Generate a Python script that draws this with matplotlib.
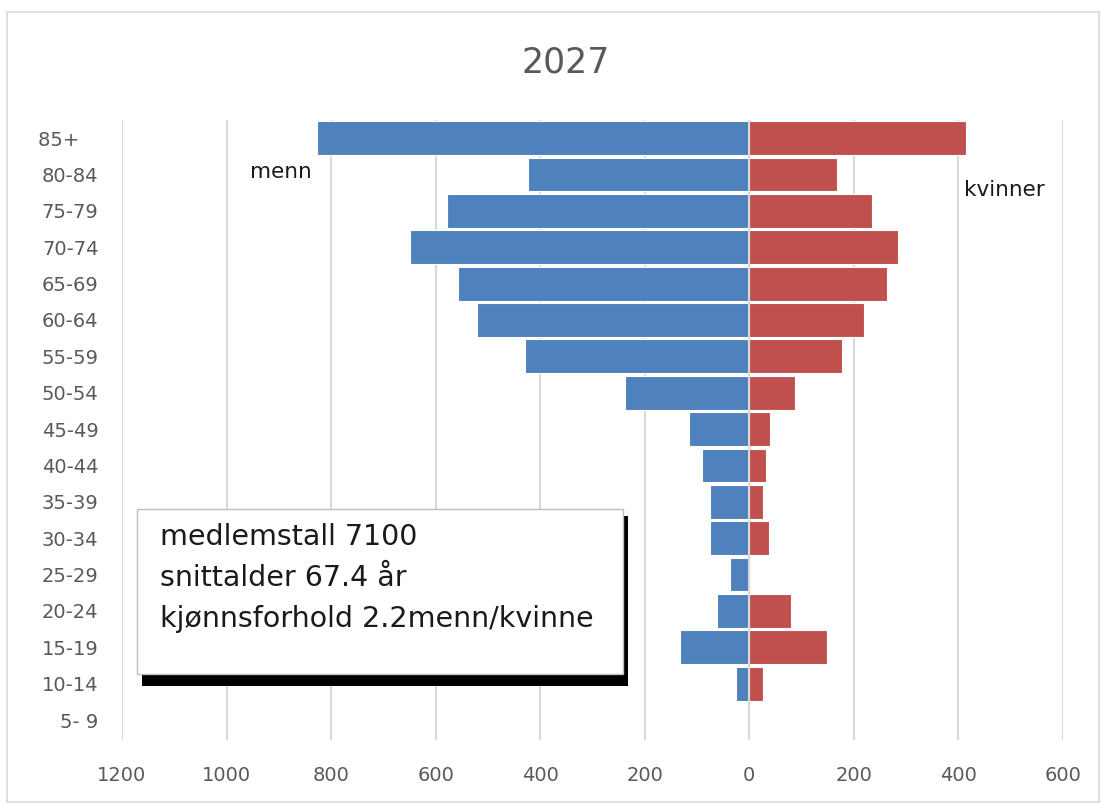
import matplotlib.pyplot as plt
import numpy as np
from matplotlib.patches import Rectangle
from matplotlib.ticker import FuncFormatter

# age groups from bottom to top
ages = ['5- 9', '10-14', '15-19', '20-24', '25-29', '30-34', '35-39', '40-44',
        '45-49', '50-54', '55-59', '60-64', '65-69', '70-74', '75-79', '80-84', '85+   ']
menn = [5, 26, 132, 62, 37, 75, 75, 90, 115, 237, 429, 521, 557, 650, 579, 423, 827]
kvinner = [0, 27, 149, 79, 0, 38, 27, 31, 39, 87, 177, 220, 264, 284, 234, 167, 414]
xticks = [-1200, -1000, -800, -600, -400, -200, 0, 200, 400, 600]

blue = '#4F81BD'
red = '#C0504D'
grey = '#595959'

fig = plt.figure(figsize=(11.02, 8.05), dpi=100)
ax = fig.add_axes([0.1107, 0.0807, 0.8539, 0.7703])

y = np.arange(len(ages))
ax.barh(y, -np.array(menn), height=0.93, color=blue, edgecolor='white', linewidth=0.8, zorder=3)
ax.barh(y, kvinner, height=0.93, color=red, edgecolor='white', linewidth=0.8, zorder=3)

ax.set_xlim(-1200, 600)
ax.set_ylim(-0.55, 16.5)
ax.set_xticks(xticks)
ax.xaxis.set_major_formatter(FuncFormatter(lambda v, p: '%d' % abs(v)))
ax.set_yticks(y)
ax.set_yticklabels(ages)
ax.tick_params(axis='both', length=0, labelsize=14, labelcolor=grey)
ax.tick_params(axis='y', pad=17)
ax.tick_params(axis='x', pad=19)
ax.grid(axis='x', color='#d9d9d9', linewidth=1.5, zorder=0)
ax.axvline(0, color='#d9d9d9', linewidth=1.5, zorder=4)
for s in ax.spines.values():
    s.set_visible(False)

fig.text(0.513, 0.922, '2027', ha='center', va='center', fontsize=25, color=grey,
         family=['Liberation Sans Narrow', 'DejaVu Sans'])
ax.text(-956, 15.07, 'menn', fontsize=15.5, color='#1a1a1a', va='center', ha='left')
ax.text(410, 14.57, 'kvinner', fontsize=15.5, color='#1a1a1a', va='center', ha='left')

# info box with shadow
shadow = Rectangle((142 / 1102, 1 - 686 / 805), 486 / 1102, 170 / 805,
                   transform=fig.transFigure, facecolor='black', edgecolor='none', zorder=5)
box = Rectangle((137 / 1102, 1 - 674 / 805), 486 / 1102, 165 / 805,
                transform=fig.transFigure, facecolor='white', edgecolor='#bfbfbf',
                linewidth=1, zorder=6)
fig.add_artist(shadow)
fig.add_artist(box)
info = ['medlemstall 7100', 'snittalder 67.4 år', 'kjønnsforhold 2.2menn/kvinne']
for i, line in enumerate(info):
    fig.text(160 / 1102, 1 - (537 + 41 * i) / 805, line, fontsize=20.5, color='#1a1a1a',
             va='center', ha='left', zorder=7)

# outer chart border
fig.add_artist(Rectangle((7 / 1102, 3 / 805), 1092 / 1102, 790 / 805, transform=fig.transFigure,
                         facecolor='none', edgecolor='#d9d9d9', linewidth=1.2))

fig.savefig('out.png', dpi=100)
